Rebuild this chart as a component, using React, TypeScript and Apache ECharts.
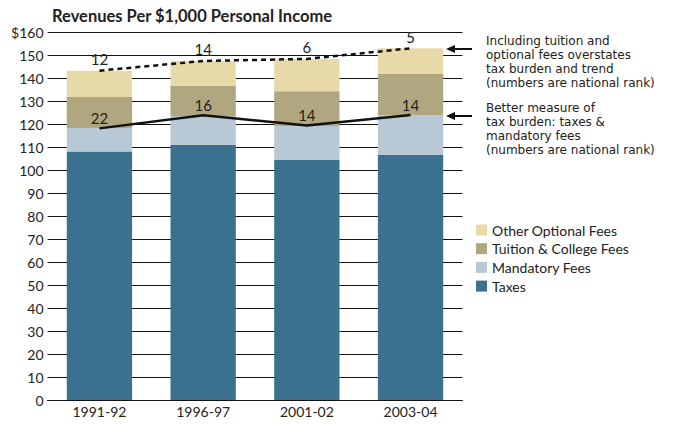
import React, { useEffect, useRef } from "react";
import * as echarts from "echarts";

const categories = ["1991-92", "1996-97", "2001-02", "2003-04"];
const taxes = [108.0, 110.9, 104.5, 106.5];
const mandatoryFees = [10.3, 12.6, 14.6, 17.3];
const tuitionFees = [13.4, 13.0, 15.1, 17.9];
const otherFees = [11.5, 10.9, 14.1, 11.2];
const totalWithFees = [143.2, 147.4, 148.3, 152.9];
const taxesAndMandatory = [118.1, 123.8, 119.3, 123.9];
const totalRank = [12, 14, 6, 5];
const mandatoryRank = [22, 16, 14, 14];
const yTicks = { min: 0, max: 160, interval: 10 };

const FONT = "Lato, 'Open Sans', sans-serif";
const NOTE_FONT = "'DejaVu Sans', Lato, sans-serif";

export default function App() {
  const ref = useRef<HTMLDivElement>(null);
  useEffect(() => {
    if (!ref.current) return;
    const chart = echarts.init(ref.current, undefined, { renderer: "svg" });
    const barCommon = { type: "bar", stack: "rev", barWidth: "63%" };
    const arrow = (y: number) => ({
      type: "group",
      children: [
        { type: "line", shape: { x1: 452, y1: y, x2: 472, y2: y }, style: { stroke: "#111", lineWidth: 2 } },
        { type: "polygon", shape: { points: [[446, y], [455, y - 4], [455, y + 4]] }, style: { fill: "#111" } },
      ],
    });
    const rankLabel = (ranks: number[], distance: number) => ({
      show: true,
      position: "top",
      distance,
      fontFamily: FONT,
      fontSize: 15,
      color: "#222",
      formatter: (p: any) => String(ranks[p.dataIndex]),
    });
    chart.setOption({
      animation: false,
      textStyle: { fontFamily: FONT },
      title: {
        text: "Revenues Per $1,000 Personal Income",
        left: 47,
        top: 2,
        textStyle: { fontFamily: FONT, fontSize: 16.5, fontWeight: "bold", color: "#222" },
      },
      grid: { left: 47.6, right: 215.6, top: 32, bottom: 24, containLabel: false },
      legend: {
        orient: "vertical",
        left: 476,
        top: 223,
        padding: 0,
        itemWidth: 11,
        itemHeight: 11,
        itemGap: 4.7,
        icon: "rect",
        data: ["Other Optional Fees", "Tuition & College Fees", "Mandatory Fees", "Taxes"],
        textStyle: { fontFamily: FONT, fontSize: 14, color: "#222", lineHeight: 14 },
      },
      xAxis: {
        type: "category",
        data: categories,
        axisLine: { lineStyle: { color: "#111", width: 1 } },
        axisTick: { show: false },
        axisLabel: { fontFamily: FONT, fontSize: 14, color: "#222", margin: 4 },
      },
      yAxis: {
        type: "value",
        min: yTicks.min,
        max: yTicks.max,
        interval: yTicks.interval,
        axisLine: { show: false },
        axisTick: { show: false },
        splitLine: { lineStyle: { color: "#111", width: 1 } },
        axisLabel: {
          fontFamily: FONT,
          fontSize: 14,
          color: "#222",
          margin: 4,
          formatter: (v: number) => (v === 160 ? "$160" : String(v)),
        },
      },
      series: [
        { ...barCommon, name: "Taxes", data: taxes, itemStyle: { color: "#3c708f" } },
        { ...barCommon, name: "Mandatory Fees", data: mandatoryFees, itemStyle: { color: "#b8c8d5" } },
        { ...barCommon, name: "Tuition & College Fees", data: tuitionFees, itemStyle: { color: "#b0a680" } },
        { ...barCommon, name: "Other Optional Fees", data: otherFees, itemStyle: { color: "#e8daa8" } },
        {
          type: "line",
          name: "totalLine",
          data: totalWithFees,
          symbol: "circle",
          symbolSize: 0,
          showSymbol: true,
          itemStyle: { color: "#111" },
          lineStyle: { color: "#111", width: 2.5, type: [5, 4] },
          label: rankLabel(totalRank, 4),
          z: 5,
        },
        {
          type: "line",
          name: "mandLine",
          data: taxesAndMandatory,
          symbol: "circle",
          symbolSize: 0,
          showSymbol: true,
          itemStyle: { color: "#111" },
          lineStyle: { color: "#111", width: 2.5 },
          label: rankLabel(mandatoryRank, 3),
          z: 5,
        },
      ],
      graphic: [
        arrow(49),
        arrow(116),
        {
          type: "text",
          left: 486,
          top: 34,
          style: {
            text: "Including tuition and\noptional fees overstates\ntax burden and trend\n(numbers are national rank)",
            font: `12px ${NOTE_FONT}`,
            lineHeight: 14,
            fill: "#222",
          },
        },
        {
          type: "text",
          left: 486,
          top: 101,
          style: {
            text: "Better measure of\ntax burden: taxes &\nmandatory fees\n(numbers are national rank)",
            font: `12px ${NOTE_FONT}`,
            lineHeight: 14,
            fill: "#222",
          },
        },
      ],
    });
    return () => chart.dispose();
  }, []);
  return <div ref={ref} style={{ position: "fixed", left: 0, top: 0, width: 678, height: 424, background: "#fff" }} />;
}
